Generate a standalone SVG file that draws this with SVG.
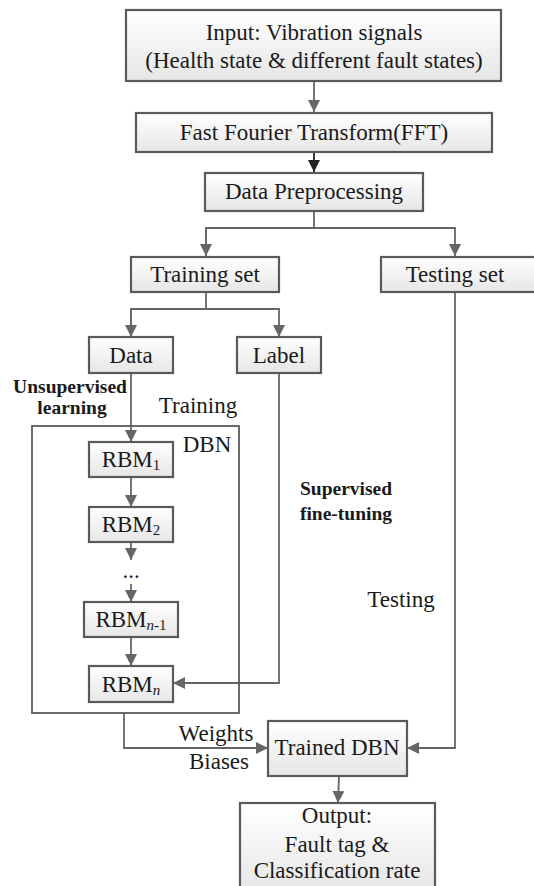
<svg xmlns="http://www.w3.org/2000/svg" width="534" height="886" viewBox="0 0 534 886">
<style>
.box{fill:url(#g);stroke:#5a5a5a;stroke-width:2.2}
.t{font-size:23px;fill:#1a1a1a;text-anchor:middle}
.b{font-size:19.5px;font-weight:bold;fill:#1a1a1a;text-anchor:middle}
.c{fill:none;stroke:#666;stroke-width:1.8}
.sub{font-size:15px}
</style>
<defs>
<linearGradient id="g" x1="0" y1="0" x2="0" y2="1">
<stop offset="0" stop-color="#ffffff"/>
<stop offset="1" stop-color="#e6e6e6"/>
</linearGradient>
<marker id="a" markerUnits="userSpaceOnUse" markerWidth="12" markerHeight="12" viewBox="0 0 12 12" refX="12" refY="6" orient="auto">
<path d="M0,0 L12,6 L0,12 z" fill="#666"/>
</marker>
<marker id="ak" markerUnits="userSpaceOnUse" markerWidth="12" markerHeight="12" viewBox="0 0 12 12" refX="12" refY="6" orient="auto">
<path d="M0,0 L12,6 L0,12 z" fill="#222"/>
</marker>
</defs>
<rect width="534" height="886" fill="#fff"/>
<g id="connectors">
<line class="c" x1="314" y1="81" x2="314" y2="112" marker-end="url(#a)"/>
<line x1="314" y1="152" x2="314" y2="172" stroke="#222" stroke-width="1.8" marker-end="url(#ak)"/>
<polyline class="c" points="314,211 314,228"/>
<polyline class="c" points="206,256 206,228 455,228 455,256" marker-end="url(#a)"/>
<line class="c" x1="206" y1="228" x2="206" y2="256" marker-end="url(#a)"/>
<polyline class="c" points="206,292 206,309"/>
<polyline class="c" points="131,337 131,309 279,309 279,337" marker-end="url(#a)"/>
<line class="c" x1="131" y1="309" x2="131" y2="337" marker-end="url(#a)"/>
<line class="c" x1="131" y1="373" x2="131" y2="442" marker-end="url(#a)"/>
<line class="c" x1="131" y1="477" x2="131" y2="507" marker-end="url(#a)"/>
<line class="c" x1="131" y1="542" x2="131" y2="560" marker-end="url(#a)"/>
<line class="c" x1="131" y1="584" x2="131" y2="602" marker-end="url(#a)"/>
<line class="c" x1="131" y1="637" x2="131" y2="666" marker-end="url(#a)"/>
<polyline class="c" points="279,373 279,683 173,683" marker-end="url(#a)"/>
<polyline class="c" points="124,713 124,748 268,748" marker-end="url(#a)"/>
<polyline class="c" points="455,292 455,748 407,748" marker-end="url(#a)"/>
<line class="c" x1="339" y1="776" x2="338" y2="803" marker-end="url(#a)"/>
</g>
<g font-family="Liberation Serif, Times New Roman, serif">
<g id="dbn">
<rect x="32" y="426" width="207" height="287" fill="none" stroke="#5a5a5a" stroke-width="1.8"/>
<text class="t" x="207" y="452">DBN</text>
</g>
<g id="input"><rect class="box" x="126" y="10" width="375" height="71"/>
<text class="t" x="314" y="40">Input: Vibration signals</text>
<text class="t" x="314" y="68">(Health state &amp; different fault states)</text></g>
<g id="fft"><rect class="box" x="136" y="113" width="356" height="39"/>
<text class="t" x="314" y="140">Fast Fourier Transform(FFT)</text></g>
<g id="prep"><rect class="box" x="205" y="173" width="218" height="38"/>
<text class="t" x="314" y="199">Data Preprocessing</text></g>
<g id="train"><rect class="box" x="131" y="257" width="148" height="35"/>
<text class="t" x="205" y="282">Training set</text></g>
<g id="test"><rect class="box" x="381" y="257" width="160" height="35"/>
<text class="t" x="455" y="282">Testing set</text></g>
<g id="data"><rect class="box" x="89" y="337" width="84" height="36"/>
<text class="t" x="131" y="363">Data</text></g>
<g id="label"><rect class="box" x="237" y="337" width="84" height="36"/>
<text class="t" x="279" y="363">Label</text></g>
<g id="rbm1"><rect class="box" x="89" y="442" width="84" height="35"/>
<text class="t" x="131" y="467">RBM<tspan class="sub" dy="3">1</tspan></text></g>
<g id="rbm2"><rect class="box" x="89" y="507" width="84" height="35"/>
<text class="t" x="131" y="532">RBM<tspan class="sub" dy="3">2</tspan></text></g>
<g id="dots"><text class="t" x="131" y="578">...</text></g>
<g id="rbmn1"><rect class="box" x="84" y="602" width="94" height="35"/>
<text class="t" x="131" y="627">RBM<tspan class="sub" dy="3" font-style="italic">n</tspan><tspan class="sub">-1</tspan></text></g>
<g id="rbmn"><rect class="box" x="89" y="666" width="84" height="36"/>
<text class="t" x="131" y="692">RBM<tspan class="sub" dy="3" font-style="italic">n</tspan></text></g>
<g id="trained"><rect class="box" x="268" y="721" width="139" height="55"/>
<text class="t" x="337" y="755">Trained DBN</text></g>
<g id="output"><rect class="box" x="240" y="803" width="195" height="90"/>
<text class="t" x="337" y="823">Output:</text>
<text class="t" x="337" y="852">Fault tag &amp;</text>
<text class="t" x="337" y="878">Classification rate</text></g>
<g id="labels">
<text class="b" x="70" y="393">Unsupervised</text>
<text class="b" x="72" y="414">learning</text>
<text class="t" x="198" y="413">Training</text>
<text class="b" x="346" y="495">Supervised</text>
<text class="b" x="346" y="520">fine-tuning</text>
<text class="t" x="401" y="607">Testing</text>
<text class="t" x="216" y="741">Weights</text>
<text class="t" x="219" y="769">Biases</text>
</g>
</g>
</svg>
